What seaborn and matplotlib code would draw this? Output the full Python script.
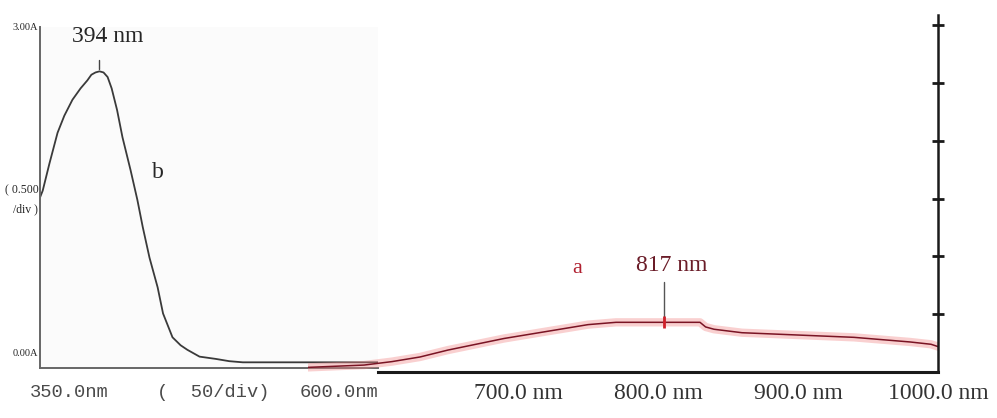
import matplotlib.pyplot as plt
import seaborn as sns
import numpy as np
import pandas as pd

sns.set_style("white")
plt.rcParams['font.family'] = ['Liberation Serif', 'DejaVu Serif']

# curve b (350-600 nm scan), absorbance
b_nm = [350, 352, 357, 363, 368, 374, 380, 385, 388, 391, 394, 397, 400, 403, 407, 411,
        417, 422, 426, 431, 437, 441, 448, 454, 459, 468, 480, 490, 500, 550, 600]
b_abs = [1.50, 1.56, 1.80, 2.07, 2.22, 2.36, 2.46, 2.53, 2.58, 2.60, 2.61, 2.60, 2.56, 2.46,
         2.27, 2.03, 1.74, 1.48, 1.24, 0.97, 0.71, 0.48, 0.27, 0.20, 0.16, 0.10, 0.08, 0.06,
         0.05, 0.05, 0.05]

# curve a (550-1000 nm scan), absorbance
a_nm = [550, 570, 590, 610, 630, 650, 670, 690, 710, 730, 750, 770, 790, 810,
        830, 834, 840, 860, 880, 900, 920, 940, 960, 980, 995, 1000]
a_abs = [0.04, 0.05, 0.06, 0.09, 0.13, 0.19, 0.24, 0.29, 0.33, 0.37, 0.41, 0.43, 0.43, 0.43,
         0.43, 0.39, 0.37, 0.34, 0.33, 0.32, 0.31, 0.30, 0.28, 0.26, 0.24, 0.22]

peak_b = (394, 2.61, "394 nm")
peak_a = (804, 0.43, "817 nm")
right_ticks = [700, 800, 900, 1000]

df_b = pd.DataFrame({"nm": b_nm, "A": b_abs})
df_a = pd.DataFrame({"nm": a_nm, "A": a_abs})

W, H = 997, 418
fig = plt.figure(figsize=(W / 100, H / 100), dpi=100)

# left panel: 350 - 600 nm, 0 - 3 A
ax_l = fig.add_axes([40 / W, 1 - 368 / H, 338 / W, 341 / H])
ax_l.set_facecolor('#fbfbfb')
sns.lineplot(data=df_b, x="nm", y="A", ax=ax_l, color='#3a3a3a', lw=1.3)
ax_l.set_xlim(350, 600)
ax_l.set_ylim(0, 3.0)
for s in ['top', 'right']:
    ax_l.spines[s].set_visible(False)
for s in ['left', 'bottom']:
    ax_l.spines[s].set_color('#666666')
    ax_l.spines[s].set_linewidth(1.4)
ax_l.set_xticks(np.arange(350, 601, 50))
ax_l.set_yticks(np.arange(0.5, 3.01, 0.5))
ax_l.tick_params(direction='inout', length=7, width=1.4, color='#666666',
                 labelbottom=False, labelleft=False)
ax_l.set_xlabel("")
ax_l.set_ylabel("")

mono = ['Liberation Mono', 'DejaVu Sans Mono']
xt = ax_l.get_xaxis_transform()
ax_l.text(342.5, -0.072, "350.0nm", transform=xt, ha='left', va='center',
          family=mono, fontsize=13.5, color='#4a4a4a')
ax_l.text(436.5, -0.072, "(  50/div)", transform=xt, ha='left', va='center',
          family=mono, fontsize=13.5, color='#4a4a4a')
ax_l.text(600, -0.072, "600.0nm", transform=xt, ha='right', va='center',
          family=mono, fontsize=13.5, color='#4a4a4a')

yt = ax_l.get_yaxis_transform()
ax_l.text(-0.005, 3.0, "3.00A", transform=yt, ha='right', va='center', fontsize=7.5)
ax_l.text(-0.005, 1.56, "( 0.500", transform=yt, ha='right', va='center', fontsize=8.5)
ax_l.text(-0.005, 1.40, "/div )", transform=yt, ha='right', va='center', fontsize=8.5)
ax_l.text(-0.005, 0.13, "0.00A", transform=yt, ha='right', va='center', fontsize=7.5)

ax_l.plot([peak_b[0], peak_b[0]], [peak_b[1] + 0.02, peak_b[1] + 0.1], color='#444444', lw=1)
ax_l.text(peak_b[0] + 6, 2.92, peak_b[2], ha='center', va='center', fontsize=17)
ax_l.text(437, 1.72, "b", ha='center', va='center', fontsize=17)

# right panel: 550 - 1000 nm
ax_r = fig.add_axes([308 / W, 1 - 372 / H, 630 / W, 357 / H])
ax_r.patch.set_alpha(0)
sns.lineplot(data=df_a, x="nm", y="A", ax=ax_r, color='#f28a8a', lw=6, alpha=0.4)
sns.lineplot(data=df_a, x="nm", y="A", ax=ax_r, color='#7a1424', lw=1.1)
ax_r.set_xlim(550, 1000)
ax_r.set_ylim(0, 3.09)
for s in ['top', 'left']:
    ax_r.spines[s].set_visible(False)
ax_r.spines['bottom'].set_bounds(600, 1000)
ax_r.spines['bottom'].set_linewidth(2.2)
ax_r.spines['right'].set_linewidth(1.8)
ax_r.spines['bottom'].set_color('#1a1a1a')
ax_r.spines['right'].set_color('#1a1a1a')
ax_r.set_xticks(np.arange(650, 1001, 50))
ax_r.set_xticklabels([f"{v:.1f} nm" if v in right_ticks else "" for v in np.arange(650, 1001, 50)])
ax_r.yaxis.tick_right()
ax_r.set_yticks(np.arange(0.5, 3.01, 0.5))
ax_r.set_yticklabels([])
ax_r.tick_params(axis='x', direction='inout', length=12, width=1.6, color='#1a1a1a',
                 labelsize=17, labelcolor='#333333', pad=2)
ax_r.tick_params(axis='y', direction='inout', length=9, width=2, color='#1a1a1a')
ax_r.set_xlabel("")
ax_r.set_ylabel("")

ax_r.plot([peak_a[0], peak_a[0]], [peak_a[1], peak_a[1] + 0.35], color='#555555', lw=1)
ax_r.plot([peak_a[0]], [peak_a[1]], marker='|', color='#d0202a', ms=8, mew=2)
ax_r.text(peak_a[0] + 6, 0.92, peak_a[2], ha='center', va='center', fontsize=17,
          color='#6a1c28')
ax_r.text(742, 0.90, "a", ha='center', va='center', fontsize=16, color='#b02030')

fig.savefig("out.png", dpi=100)
